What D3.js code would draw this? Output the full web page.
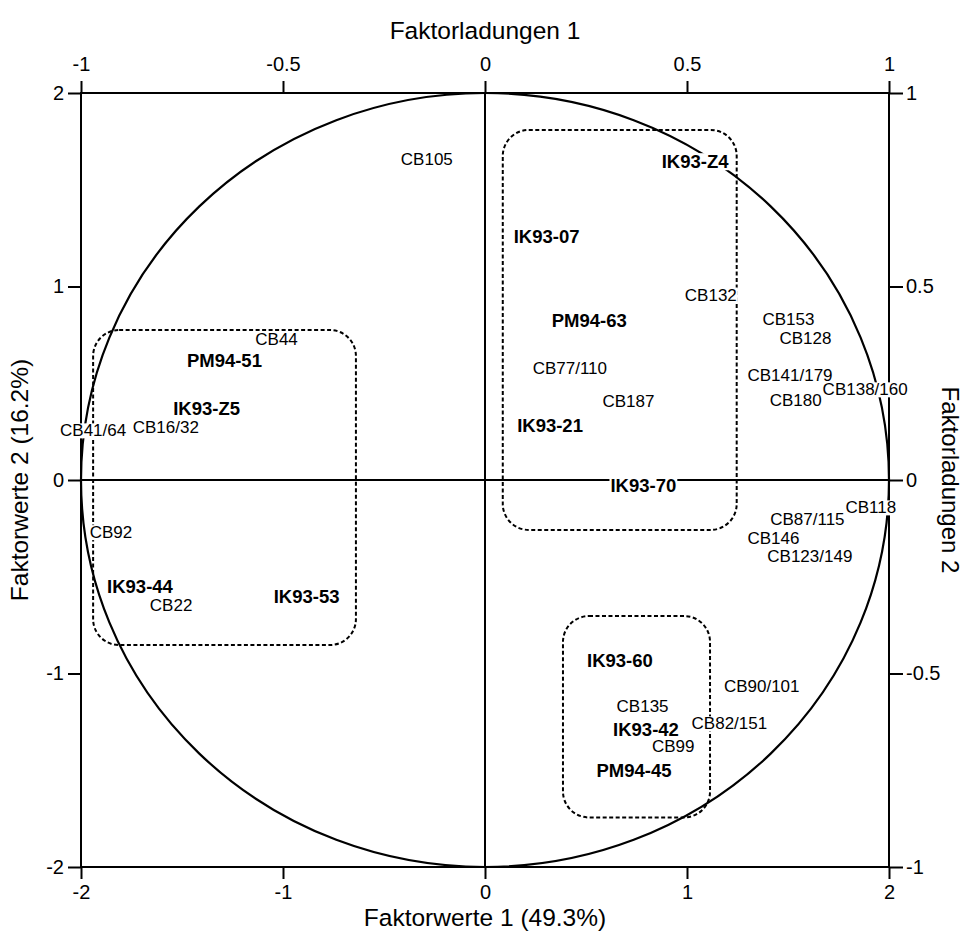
<!DOCTYPE html>
<html>
<head>
<meta charset="utf-8">
<script src="https://cdn.jsdelivr.net/npm/d3@7"></script>
<style>
  html, body { margin: 0; padding: 0; background: #fff; }
  svg text { font-family: "Liberation Sans", Arial, Helvetica, sans-serif; fill: #000; }
</style>
</head>
<body>
<svg id="chart" width="966" height="938"></svg>
<script>
// Sample scores (Faktorwerte), labelled in bold
const sampleNames = ["IK93-Z4", "IK93-07", "PM94-63", "IK93-21", "IK93-70", "PM94-51",
  "IK93-Z5", "IK93-44", "IK93-53", "IK93-60", "IK93-42", "PM94-45"];
const sampleF1 = [1.04, 0.305, 0.516, 0.322, 0.784, -1.29, -1.378, -1.708, -0.883, 0.668, 0.797, 0.738];
const sampleF2 = [1.645, 1.257, 0.823, 0.281, -0.031, 0.62, 0.367, -0.548, -0.603, -0.935, -1.288, -1.502];

// Congener loadings (Faktorladungen)
const loadNames = ["CB105", "CB132", "CB77/110", "CB187", "CB44", "CB41/64", "CB16/32", "CB92",
  "CB22", "CB153", "CB128", "CB141/179", "CB138/160", "CB180", "CB118", "CB87/115", "CB146",
  "CB123/149", "CB90/101", "CB135", "CB82/151", "CB99"];
const loadL1 = [-0.144, 0.559, 0.210, 0.355, -0.516, -0.970, -0.790, -0.926, -0.777, 0.751, 0.793,
  0.755, 0.941, 0.769, 0.955, 0.798, 0.714, 0.804, 0.685, 0.390, 0.605, 0.466];
const loadL2 = [0.827, 0.478, 0.289, 0.204, 0.364, 0.127, 0.136, -0.136, -0.323, 0.416, 0.366,
  0.271, 0.233, 0.205, -0.072, -0.103, -0.151, -0.198, -0.534, -0.586, -0.630, -0.689];

// Group outlines in score units: [x0, x1, y0, y1]
const groupBoxes = [
  [-1.94, -0.639, -0.853, 0.775],
  [0.088, 1.246, -0.258, 1.809],
  [0.386, 1.114, -1.744, -0.703]
];

// Axis ticks
const scoreTicks = [-2, -1, 0, 1, 2];
const loadTicks = [-1, -0.5, 0, 0.5, 1];

const svg = d3.select("#chart");
const L = 81, T = 93, W = 808, H = 774;

const xS = d3.scaleLinear().domain([-2, 2]).range([L, L + W]);
const yS = d3.scaleLinear().domain([-2, 2]).range([T + H, T]);
const xL = d3.scaleLinear().domain([-1, 1]).range([L, L + W]);
const yL = d3.scaleLinear().domain([-1, 1]).range([T + H, T]);

const fmt = d => String(d);

// Axes on all four sides
const axB = svg.append("g").attr("transform", `translate(0,${T + H})`)
  .call(d3.axisBottom(xS).tickValues(scoreTicks).tickFormat(fmt).tickSize(12).tickPadding(6).tickSizeOuter(0));
const axLft = svg.append("g").attr("transform", `translate(${L},0)`)
  .call(d3.axisLeft(yS).tickValues(scoreTicks).tickFormat(fmt).tickSize(13).tickPadding(4).tickSizeOuter(0));
const axT = svg.append("g").attr("transform", `translate(0,${T})`)
  .call(d3.axisTop(xL).tickValues(loadTicks).tickFormat(fmt).tickSize(12).tickPadding(10).tickSizeOuter(0));
const axR = svg.append("g").attr("transform", `translate(${L + W},0)`)
  .call(d3.axisRight(yL).tickValues(loadTicks).tickFormat(fmt).tickSize(14).tickPadding(3).tickSizeOuter(0));

[axB, axLft, axT, axR].forEach(g => {
  g.select(".domain").remove();
  g.selectAll(".tick line").attr("stroke", "#000").attr("stroke-width", 2);
  g.selectAll(".tick text").style("font-size", "20px");
});

// Frame
svg.append("rect").attr("x", L).attr("y", T).attr("width", W).attr("height", H)
  .attr("fill", "none").attr("stroke", "#000").attr("stroke-width", 2);

// Zero lines
svg.append("line").attr("x1", xS(-2)).attr("x2", xS(2)).attr("y1", yS(0)).attr("y2", yS(0))
  .attr("stroke", "#000").attr("stroke-width", 2);
svg.append("line").attr("x1", xS(0)).attr("x2", xS(0)).attr("y1", yS(-2)).attr("y2", yS(2))
  .attr("stroke", "#000").attr("stroke-width", 2);

// Unit circle of the loadings
svg.append("ellipse").attr("cx", xL(0)).attr("cy", yL(0))
  .attr("rx", xL(1) - xL(0)).attr("ry", yL(0) - yL(1))
  .attr("fill", "none").attr("stroke", "#000").attr("stroke-width", 2.2);

// Dashed group outlines
svg.selectAll("rect.group").data(groupBoxes).join("rect").attr("class", "group")
  .attr("x", d => xS(d[0])).attr("y", d => yS(d[3]))
  .attr("width", d => xS(d[1]) - xS(d[0])).attr("height", d => yS(d[2]) - yS(d[3]))
  .attr("rx", 26).attr("ry", 26)
  .attr("fill", "none").attr("stroke", "#000").attr("stroke-width", 2)
  .attr("stroke-dasharray", "4,2.5");

// Labels with a white backing so lines break around them
function addLabel(x, y, text, size, weight) {
  const g = svg.append("g");
  const t = g.append("text").attr("x", x).attr("y", y)
    .attr("text-anchor", "middle").attr("dominant-baseline", "central")
    .style("font-size", size + "px").style("font-weight", weight).text(text);
  const b = t.node().getBBox();
  g.insert("rect", "text").attr("x", b.x - 1).attr("y", b.y + 2)
    .attr("width", b.width + 2).attr("height", b.height - 4).attr("fill", "#fff");
}

loadNames.forEach((n, i) => addLabel(xL(loadL1[i]), yL(loadL2[i]), n, 17, "normal"));
sampleNames.forEach((n, i) => addLabel(xS(sampleF1[i]), yS(sampleF2[i]), n, 18.5, "bold"));

// Axis titles
svg.append("text").attr("x", xS(0)).attr("y", 39).attr("text-anchor", "middle")
  .style("font-size", "24.5px").text("Faktorladungen 1");
svg.append("text").attr("x", xS(0)).attr("y", 926).attr("text-anchor", "middle")
  .style("font-size", "24.5px").text("Faktorwerte 1 (49.3%)");
svg.append("text").attr("transform", `translate(28,${yS(0)}) rotate(-90)`).attr("text-anchor", "middle")
  .style("font-size", "24.5px").text("Faktorwerte 2 (16.2%)");
svg.append("text").attr("transform", `translate(942,${yS(0)}) rotate(90)`).attr("text-anchor", "middle")
  .style("font-size", "24px").text("Faktorladungen 2");
</script>
</body>
</html>
